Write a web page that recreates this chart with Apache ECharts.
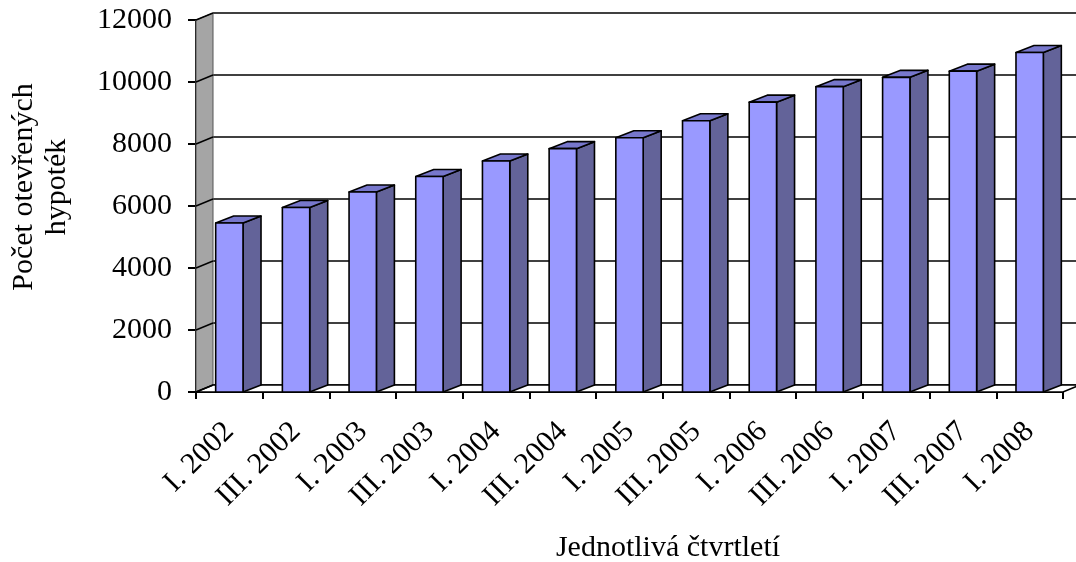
<!DOCTYPE html>
<html>
<head>
<meta charset="utf-8">
<script src="https://cdn.jsdelivr.net/npm/echarts@6/dist/echarts.min.js"></script>
<style>
  html, body { margin: 0; padding: 0; background: #fff; }
  #chart { width: 1076px; height: 562px; }
</style>
</head>
<body>
<div id="chart"></div>
<script>
  // data
  const quarters = ['I. 2002', 'III. 2002', 'I. 2003', 'III. 2003', 'I. 2004', 'III. 2004', 'I. 2005',
    'III. 2005', 'I. 2006', 'III. 2006', 'I. 2007', 'III. 2007', 'I. 2008'];
  const mortgages = [5450, 5950, 6450, 6950, 7450, 7850, 8200, 8750, 9350, 9850, 10150, 10350, 10950];
  const yTicks = [0, 2000, 4000, 6000, 8000, 10000, 12000];

  const FONT = 'Liberation Serif';
  const DX = 17, DY = -7;      // depth of the walls
  const BDX = 18, BDY = -7;    // depth of the bars

  // left wall, floor and the short lines joining front ticks with back gridlines
  function renderWalls(params, api) {
    const v = api.value(1);
    const p = api.coord([0, v]);
    const band = api.size([1, 0])[0];
    const x0 = p[0] - band / 2;
    const y = p[1];
    const kids = [];
    if (params.dataIndex === 0) {
      const yTop = api.coord([0, yTicks[yTicks.length - 1]])[1];
      const x1 = x0 + band * quarters.length;
      kids.push({
        type: 'polygon',
        shape: { points: [[x0, y], [x0 + DX, y + DY], [x0 + DX, yTop + DY], [x0, yTop]] },
        style: { fill: '#a5a5a5', stroke: '#555', lineWidth: 1 }
      });
      kids.push({
        type: 'polygon',
        shape: { points: [[x0, y], [x1, y], [x1 + DX, y + DY], [x0 + DX, y + DY]] },
        style: { fill: '#fff', stroke: '#000', lineWidth: 1.5 }
      });
    }
    kids.push({
      type: 'line',
      shape: { x1: x0, y1: y, x2: x0 + DX, y2: y + DY },
      style: { stroke: '#000', lineWidth: 1.5 }
    });
    return { type: 'group', children: kids };
  }

  function renderBar(params, api) {
    const idx = api.value(0);
    const top = api.coord([idx, api.value(1)]);
    const base = api.coord([idx, 0]);
    const w = api.size([1, 0])[0] * 0.41;
    const xl = top[0] - w / 2, xr = top[0] + w / 2;
    const yt = top[1], yb = base[1];
    const line = { stroke: '#000', lineWidth: 1.6, lineJoin: 'round' };
    return {
      type: 'group',
      children: [
        { type: 'polygon', shape: { points: [[xr, yb], [xr + BDX, yb + BDY], [xr + BDX, yt + BDY], [xr, yt]] },
          style: Object.assign({ fill: '#636399' }, line) },
        { type: 'polygon', shape: { points: [[xl, yt], [xr, yt], [xr + BDX, yt + BDY], [xl + BDX, yt + BDY]] },
          style: Object.assign({ fill: '#7777cc' }, line) },
        { type: 'rect', shape: { x: xl, y: yt, width: w, height: yb - yt },
          style: Object.assign({ fill: '#9999ff' }, line) }
      ]
    };
  }

  const myChart = echarts.init(document.getElementById('chart'));
  myChart.setOption({
    animation: false,
    backgroundColor: '#fff',
    grid: [
      { left: 196, top: 20, width: 867, height: 372 },
      { left: 196 + DX, top: 20 + DY, width: 867, height: 372 }
    ],
    xAxis: [
      {
        type: 'category',
        gridIndex: 0,
        data: quarters,
        axisLine: { lineStyle: { color: '#000', width: 2 } },
        axisTick: { show: true, length: 7, lineStyle: { color: '#000', width: 2 } },
        axisLabel: {
          interval: 0,
          rotate: 45,
          margin: 35,
          color: '#000',
          fontFamily: FONT,
          fontSize: 30
        },
        splitLine: { show: false }
      },
      {
        type: 'category',
        gridIndex: 1,
        data: quarters,
        show: false
      }
    ],
    yAxis: [
      {
        type: 'value',
        gridIndex: 0,
        min: 0,
        max: 12000,
        interval: 2000,
        axisLine: { show: true, lineStyle: { color: '#000', width: 2 } },
        axisTick: { show: true, length: 8, lineStyle: { color: '#000', width: 2 } },
        axisLabel: {
          margin: 24,
          color: '#000',
          fontFamily: FONT,
          fontSize: 30,
          formatter: v => String(v)
        },
        splitLine: { show: false }
      },
      {
        type: 'value',
        gridIndex: 1,
        min: 0,
        max: 12000,
        interval: 2000,
        axisLine: { show: false },
        axisTick: { show: false },
        axisLabel: { show: false },
        splitLine: { show: true, lineStyle: { color: '#000', width: 1.5 } }
      }
    ],
    graphic: [
      {
        type: 'text',
        x: 41,
        y: 187,
        rotation: Math.PI / 2,
        style: {
          text: 'Počet otevřených\nhypoték',
          fontFamily: FONT,
          fontSize: 30,
          fill: '#000',
          align: 'center',
          verticalAlign: 'middle',
          lineHeight: 33
        }
      },
      {
        type: 'text',
        x: 668,
        y: 548,
        style: {
          text: 'Jednotlivá čtvrtletí',
          fontFamily: FONT,
          fontSize: 30,
          fill: '#000',
          align: 'center',
          verticalAlign: 'middle'
        }
      }
    ],
    series: [
      {
        name: 'walls',
        type: 'custom',
        xAxisIndex: 0,
        yAxisIndex: 0,
        z: 1,
        silent: true,
        renderItem: renderWalls,
        data: yTicks.map(v => [0, v]),
        encode: { x: 0, y: 1 }
      },
      {
        name: 'Počet otevřených hypoték',
        type: 'custom',
        xAxisIndex: 0,
        yAxisIndex: 0,
        z: 3,
        renderItem: renderBar,
        data: mortgages.map((v, i) => [i, v]),
        encode: { x: 0, y: 1 }
      }
    ]
  });
</script>
</body>
</html>
